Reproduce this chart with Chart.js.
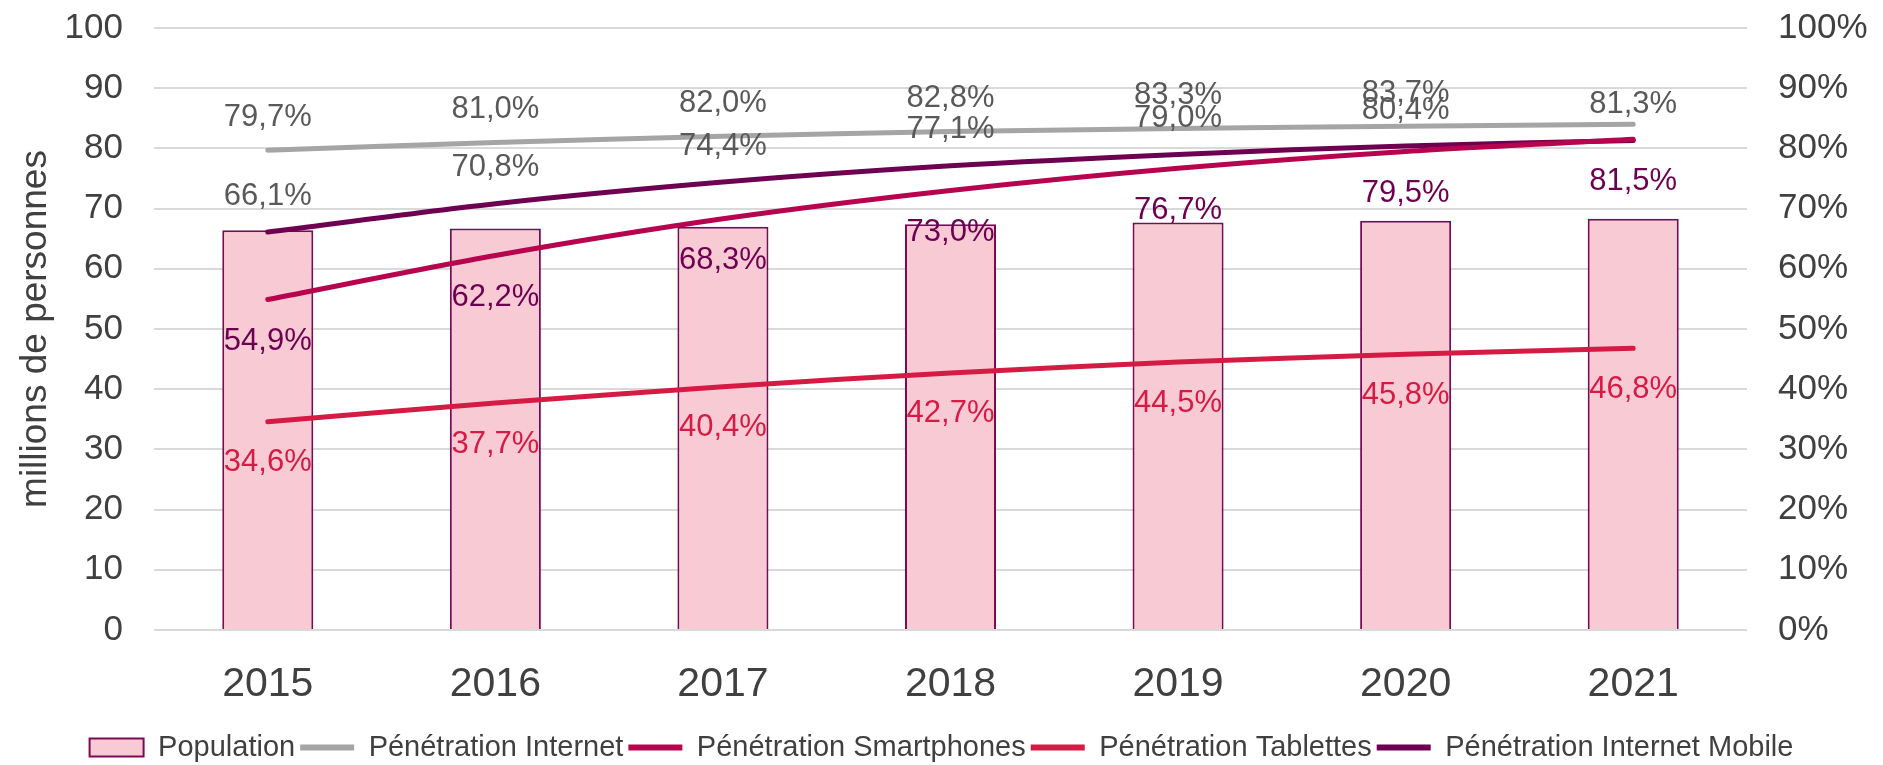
<!DOCTYPE html>
<html>
<head>
<meta charset="utf-8">
<script src="https://cdn.jsdelivr.net/npm/chart.js@4/dist/chart.umd.min.js"></script>
<style>
  html, body { margin: 0; padding: 0; background: #fff; }
  #wrap { width: 1883px; height: 765px; }
</style>
</head>
<body>
<div id="wrap"><canvas id="graph" width="1883" height="765"></canvas></div>
<script>
// ---- DONNÉES ----
const annees = ["2015", "2016", "2017", "2018", "2019", "2020", "2021"];
const population = [66.4, 66.7, 67.0, 67.4, 67.7, 68.0, 68.3];          // millions
const penInternet = [79.7, 81.0, 82.0, 82.8, 83.3, 83.7, 84.0];         // %
const penSmartphones = [54.9, 62.2, 68.3, 73.0, 76.7, 79.5, 81.5];
const penTablettes = [34.6, 37.7, 40.4, 42.7, 44.5, 45.8, 46.8];
const penMobile = [66.1, 70.8, 74.4, 77.1, 79.0, 80.4, 81.3];
const ticksGauche = [0, 10, 20, 30, 40, 50, 60, 70, 80, 90, 100];

// ---- COULEURS ----
const GRIS = "#A5A5A5";
const VIOLET = "#6E0051";
const MAGENTA = "#B7044F";
const ROUGE = "#D51B43";
const ROSE = "#F8CAD4";
const TEXTE = "#404040";
const POLICE = "'Liberation Sans', Arial, sans-serif";

const fmt = v => v.toFixed(1).replace(".", ",") + "%";

// labels : dataset, couleur, décalage y, points sans label
const etiquettes = [
  { ds: 1, couleur: "#595959", dy: -33, cache: [6] },
  { ds: 4, couleur: "#595959", dy: -36, cache: [] },
  { ds: 2, couleur: VIOLET, dy: 42, cache: [] },
  { ds: 3, couleur: ROUGE, dy: 41, cache: [] }
];

const pluginEtiquettes = {
  id: "etiquettes",
  afterDatasetsDraw(chart) {
    const ctx = chart.ctx;
    ctx.save();
    ctx.font = "31px " + POLICE;
    ctx.textAlign = "center";
    ctx.textBaseline = "middle";
    etiquettes.forEach(e => {
      const meta = chart.getDatasetMeta(e.ds);
      const data = chart.data.datasets[e.ds].data;
      ctx.fillStyle = e.couleur;
      meta.data.forEach((pt, i) => {
        if (e.cache.includes(i)) return;
        ctx.fillText(fmt(data[i]), pt.x, pt.y + e.dy);
      });
    });
    ctx.restore();
  }
};

const ligne = (label, data, couleur) => ({
  type: "line",
  label: label,
  data: data,
  yAxisID: "y2",
  borderColor: couleur,
  backgroundColor: couleur,
  borderWidth: 5,
  borderCapStyle: "round",
  pointRadius: 0,
  tension: 0.3,
  fill: false,
  order: 0
});

// les axes verticaux ne doivent pas réserver de marge en haut / en bas
const sansMarge = s => { s.paddingTop = 0; s.paddingBottom = 0; };

new Chart(document.getElementById("graph"), {
  type: "bar",
  data: {
    labels: annees,
    datasets: [
      {
        label: "Population",
        data: population,
        yAxisID: "y",
        backgroundColor: ROSE,
        borderColor: "#7A0A55",
        borderWidth: 2,
        barPercentage: 0.4,
        categoryPercentage: 1.0,
        order: 1
      },
      ligne("Pénétration Internet", penInternet, GRIS),
      ligne("Pénétration Smartphones", penSmartphones, MAGENTA),
      ligne("Pénétration Tablettes", penTablettes, ROUGE),
      ligne("Pénétration Internet Mobile", penMobile, VIOLET)
    ]
  },
  options: {
    responsive: false,
    animation: false,
    layout: { padding: { top: 28, left: 0, right: 0, bottom: -7 } },
    plugins: {
      tooltip: { enabled: false },
      legend: {
        position: "bottom",
        labels: {
          usePointStyle: true,
          pointStyleWidth: 54,
          boxHeight: 18,
          padding: 5,
          color: TEXTE,
          font: { family: POLICE, size: 29 },
          generateLabels(chart) {
            return chart.data.datasets.map((d, i) => ({
              text: d.label,
              datasetIndex: i,
              pointStyle: i === 0 ? "rect" : "line",
              fillStyle: d.backgroundColor,
              strokeStyle: d.borderColor,
              lineWidth: i === 0 ? 2 : 6,
              fontColor: TEXTE
            }));
          }
        }
      }
    },
    scales: {
      x: {
        grid: { display: false, drawTicks: false },
        border: { display: false },
        ticks: {
          color: TEXTE,
          padding: 30,
          font: { family: POLICE, size: 41 }
        },
        afterFit(s) { s.height = 98; }
      },
      y: {
        position: "left",
        min: 0,
        max: 100,
        afterBuildTicks(s) { s.ticks = ticksGauche.map(v => ({ value: v })); },
        grid: { color: "#D9D9D9", lineWidth: 2, drawTicks: false },
        border: { display: false },
        ticks: {
          color: TEXTE,
          padding: 31,
          font: { family: POLICE, size: 35 }
        },
        title: {
          display: true,
          text: "millions de personnes",
          color: TEXTE,
          padding: { top: 14, bottom: 0 },
          font: { family: POLICE, size: 37 }
        },
        afterFit(s) { s.width = 154; sansMarge(s); }
      },
      y2: {
        position: "right",
        min: 0,
        max: 100,
        afterBuildTicks(s) { s.ticks = ticksGauche.map(v => ({ value: v })); },
        grid: { display: false, drawTicks: false },
        border: { display: false },
        ticks: {
          color: TEXTE,
          padding: 31,
          callback: v => v + "%",
          font: { family: POLICE, size: 35 }
        },
        afterFit(s) { s.width = 136; sansMarge(s); }
      }
    }
  },
  plugins: [pluginEtiquettes]
});
</script>
</body>
</html>
